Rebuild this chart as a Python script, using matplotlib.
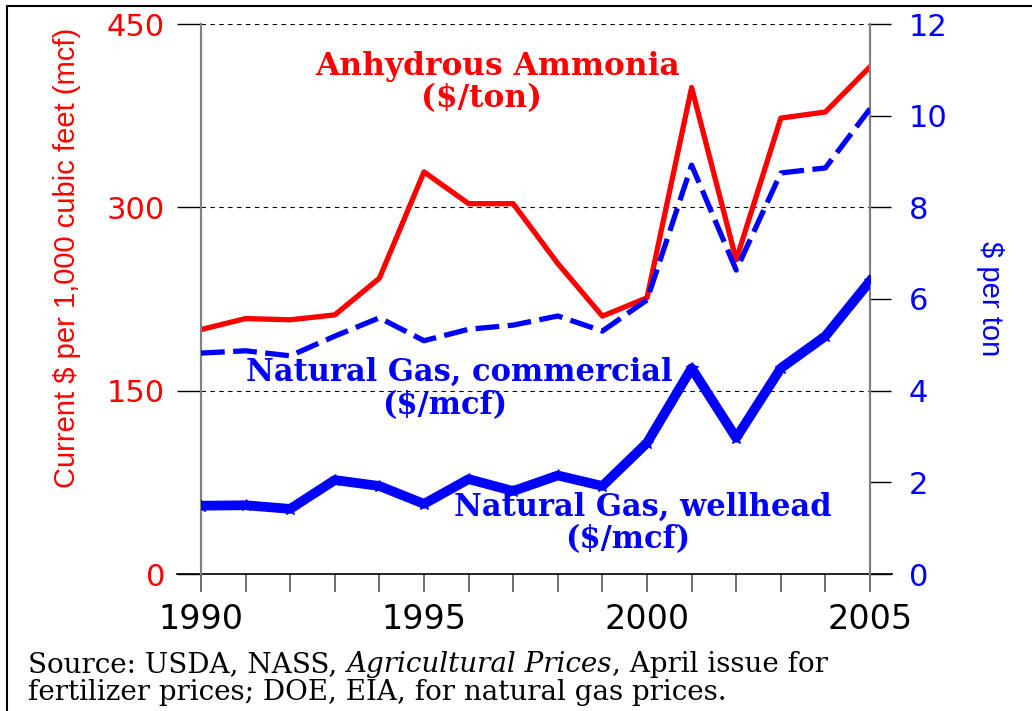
import numpy as np
import matplotlib
matplotlib.use('Agg')
import matplotlib.pyplot as plt
from matplotlib.patches import Rectangle

years = list(range(1990, 2006))
ammonia = [200, 209, 208, 212, 242, 329, 303, 303, 254, 211, 226, 398, 257, 373, 378, 415]
gas_commercial = [4.82, 4.87, 4.76, 5.19, 5.59, 5.09, 5.34, 5.43, 5.63, 5.30, 5.98, 8.92, 6.63, 8.75, 8.86, 10.15]
gas_wellhead = [1.49, 1.50, 1.42, 2.05, 1.92, 1.53, 2.07, 1.81, 2.15, 1.92, 2.86, 4.49, 2.97, 4.49, 5.19, 6.39]

left_ticks = [0, 150, 300, 450]
right_ticks = [0, 2, 4, 6, 8, 10, 12]
x_ticks = [1990, 1995, 2000, 2005]

red = '#ff0000'
blue = '#0000ff'

fig = plt.figure(figsize=(10.32, 7.11), dpi=100)
ax = fig.add_axes([201/1032, 1-574/711, (870-201)/1032, (574-24)/711])
ax2 = ax.twinx()

ax.plot(years, ammonia, color=red, lw=3.8, zorder=3)
ax2.plot(years, gas_commercial, color=blue, lw=3.8, linestyle=(0, (4.5, 1.6)), zorder=3)
ax2.plot(years, gas_wellhead, color=blue, lw=7, marker='*', markersize=9, zorder=3)

ax.set_xlim(1990, 2005)
ax.set_ylim(0, 450)
ax2.set_ylim(0, 12)
ax.set_xticks(x_ticks)
ax.set_xticks(years, minor=True)
ax.set_yticks(left_ticks)
ax2.set_yticks(right_ticks)

for s in ['top', 'bottom']:
    ax.spines[s].set_visible(False)
    ax2.spines[s].set_visible(False)
for a in (ax, ax2):
    a.spines['left'].set_color('#808080')
    a.spines['right'].set_color('#808080')
    a.spines['left'].set_linewidth(1.5)
    a.spines['right'].set_linewidth(1.5)

ax.axhline(0, xmin=-0.036, xmax=1.033, color='black', lw=1.2, clip_on=False, zorder=2)
ax.yaxis.grid(True, color='black', linestyle=(0, (4, 4)), lw=0.8)

ax.tick_params(axis='x', which='both', direction='out', length=13, width=1.2, color='#555555',
               labelsize=24, pad=8)
ax.tick_params(axis='y', direction='out', length=17, width=1, color='black', labelsize=22,
               labelcolor=red, pad=9)
ax2.tick_params(axis='y', direction='out', length=15, width=1, color='black', labelsize=22,
                labelcolor=blue, pad=13)

sans = 'Liberation Sans'
ax.set_ylabel('Current $ per 1,000 cubic feet (mcf)', color=red, fontsize=21, family=sans)
ax.yaxis.set_label_coords(-0.18, 0.575)
ax2.set_ylabel('$ per ton', color=blue, fontsize=21, family=sans, rotation=270)
ax2.yaxis.set_label_coords(1.2, 0.5)

serif = 'DejaVu Serif'
ax.text(1996.64, 415, 'Anhydrous Ammonia', color=red, fontsize=22.5, fontweight='bold',
        family=serif, ha='center', va='center')
ax.text(1996.3, 389, '($/ton)', color=red, fontsize=22.5, fontweight='bold',
        family=serif, ha='center', va='center')
ax.text(1995.8, 165, 'Natural Gas, commercial', color=blue, fontsize=22, fontweight='bold',
        family=serif, ha='center', va='center', zorder=4)
ax.text(1995.47, 138, '($/mcf)', color=blue, fontsize=22, fontweight='bold',
        family=serif, ha='center', va='center')
ax.text(1999.9, 55, 'Natural Gas, wellhead', color=blue, fontsize=22, fontweight='bold',
        family=serif, ha='center', va='center')
ax.text(1999.57, 28.6, '($/mcf)', color=blue, fontsize=22, fontweight='bold',
        family=serif, ha='center', va='center')

# source note, title of the publication in italics
fs = 20
t1 = fig.text(28/1032, 1-665/711, 'Source: USDA, NASS, ', fontsize=fs, family=serif,
              va='center', ha='left')
t2 = ax.annotate('Agricultural Prices', xy=(1, 0.5), xycoords=t1, va='center', ha='left',
                 fontsize=fs, family=serif, style='italic', annotation_clip=False)
ax.annotate(', April issue for', xy=(1, 0.5), xycoords=t2, va='center', ha='left',
            fontsize=fs, family=serif, annotation_clip=False)
fig.text(28/1032, 1-693/711, 'fertilizer prices; DOE, EIA, for natural gas prices.', fontsize=fs,
         family=serif, va='center', ha='left')

fig.patches.append(Rectangle((7/1032, -0.1), 1.2, 1.1 - 6/711, transform=fig.transFigure,
                             fill=False, edgecolor='black', lw=1.5))

fig.savefig('out.png', dpi=100)
